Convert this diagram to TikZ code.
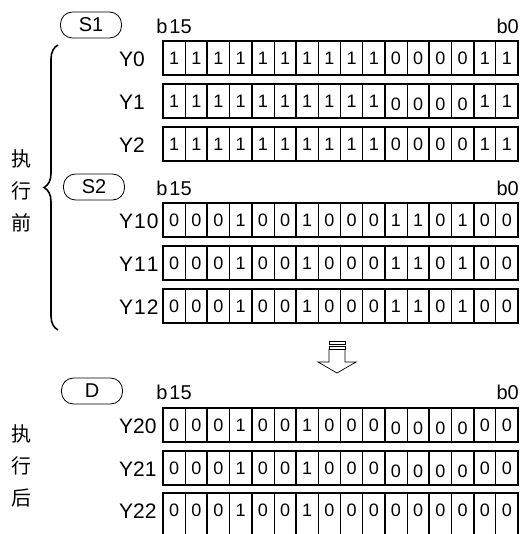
\documentclass[tikz,border=0pt]{standalone}
\usepackage{fontspec}
\setmainfont{Liberation Sans}
\newfontfamily\cjk{Noto Sans CJK SC}
\usetikzlibrary{decorations.pathreplacing}

% a digit that sits a little low in its cell
\newcommand{\lowd}[1]{\raisebox{-3pt}{#1}}
% one 16-bit register row: name, top edge, label, bits b15..b0, extra cell style
\newcommand{\bitrow}[5]{%
  \node[reglabel] (#1) at (119,#2+18) {#3};
  \foreach \bitv [count=\i] in {#4}
    \node[bit, #5] (#1-\i) at ({163+22.19*(\i-0.5)},#2) {\bitv};
  \foreach \k in {2,4,...,14}
    \draw[sep] (#1-\k.north east) -- (#1-\k.south east);
  \draw[frame] (#1-1.north west) rectangle (#1-16.south east);
}

\begin{document}
\begin{tikzpicture}[
    x=1pt, y=-1pt,
    bit/.style={draw, line width=0.8pt, anchor=north, minimum width=22.19pt, minimum height=34pt, text height=13pt, text depth=0pt, inner sep=0pt, outer sep=0pt, font=\fontsize{18pt}{20pt}\selectfont},
    lastbit/.style={minimum height=50pt, text depth=16pt},
    sep/.style={line width=1.8pt},
    frame/.style={line width=1.8pt},
    reglabel/.style={anchor=west, inner sep=0pt, font=\fontsize{21pt}{23pt}\selectfont},
    tag/.style={draw, line width=0.8pt, rounded corners=12pt, minimum width=61pt, minimum height=26pt, inner sep=0pt, font=\fontsize{20pt}{22pt}\selectfont},
    bitno/.style={inner sep=0pt, font=\fontsize{20pt}{22pt}\selectfont},
    side/.style={align=center, inner sep=0pt, font=\cjk\fontsize{20pt}{32pt}\selectfont},
    outline/.style={line width=0.7pt},
]
\clip (0,0) rectangle (525,534);

% ── S1 ──
\node[tag] (S1) at (91,25) {S1};
\node[bitno] (S1hi) at (174,26) {b\kern2pt15};
\node[bitno, anchor=east] (S1lo) at (519,26) {b0};
\bitrow{Y0}{41}{Y0}{1,1,1,1,1,1,1,1,1,1,0,0,0,0,1,1}{}
\bitrow{Y1}{84}{Y1}{1,1,1,1,1,1,1,1,1,1,\lowd0,\lowd0,\lowd0,\lowd0,1,1}{}
\bitrow{Y2}{127}{Y2}{1,1,1,1,1,1,1,1,1,1,0,0,0,0,1,1}{}

% ── S2 ──
\node[tag] (S2) at (94,187) {S2};
\node[bitno] (S2hi) at (174,188) {b\kern2pt15};
\node[bitno, anchor=east] (S2lo) at (519,188) {b0};
\bitrow{Y10}{203}{Y\kern1pt1\kern1pt0}{0,0,0,1,0,0,1,0,0,0,1,1,0,1,0,0}{}
\bitrow{Y11}{246}{Y\kern1pt1\kern1pt1}{0,0,0,1,0,0,1,0,0,0,1,1,0,1,0,0}{}
\bitrow{Y12}{289}{Y\kern1pt1\kern1pt2}{0,0,0,1,0,0,1,0,0,0,1,1,0,1,0,0}{}

% ── before execution ──
\draw[decorate, decoration={brace, amplitude=14pt}, line width=1.6pt]
  (58,330) -- (58,45);
\node[side] (before) at (21,191) {执\\行\\前};

% ── hollow arrow ──
\draw[outline] (329,341) rectangle (345,344);
\draw[outline] (329,346) rectangle (345,349);
\draw[outline] (329,349) -- (329,362) -- (318,362) -- (337,373)
  -- (356,362) -- (345,362) -- (345,349);

% ── D ──
\node[tag] (D) at (92,391) {D};
\node[bitno] (Dhi) at (174,392) {b\kern2pt15};
\node[bitno, anchor=east] (Dlo) at (519,392) {b0};
\bitrow{Y20}{408}{Y20}{0,0,0,1,0,0,1,0,0,0,\lowd0,\lowd0,\lowd0,\lowd0,0,0}{}
\bitrow{Y21}{451}{Y21}{0,0,0,1,0,0,1,0,0,0,\lowd0,\lowd0,\lowd0,\lowd0,0,0}{}
\bitrow{Y22}{493}{Y22}{0,0,0,1,0,0,1,0,0,0,0,0,0,0,0,0}{lastbit}

% ── after execution ──
\node[side] (after) at (21,466) {执\\行\\后};

\end{tikzpicture}
\end{document}
